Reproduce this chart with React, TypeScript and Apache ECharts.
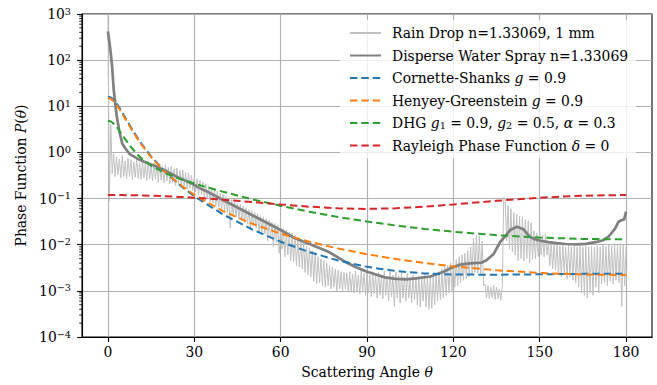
import React, { useEffect, useRef } from "react";
import * as echarts from "echarts";

const FONT = "DejaVu Serif";

// ---- axes ----
const X_MIN = -9;
const X_MAX = 189;
const xTickValues = [0, 30, 60, 90, 120, 150, 180];
const Y_MIN = 1e-4;
const Y_MAX = 1e3;
const yDecades = [-4, -3, -2, -1, 0, 1, 2];
const minorMultipliers = [2, 3, 4, 5, 6, 7, 8, 9];

// ---- model phase functions ----
const thetaModel = [0, 1, 2, 3, 4, 5, 6, 8, 10, 12, 15, 20, 25, 30, 40, 50, 60, 70, 80, 90, 100, 110, 120, 135, 150, 165, 180];
const cornetteShanks = [16.14, 15.51, 13.8, 11.58, 9.33, 7.352, 5.73, 3.504, 2.203, 1.4415, 0.819, 0.3723, 0.1946, 0.1122, 0.04525, 0.02162, 0.01162, 0.006907, 0.004538, 0.003314, 0.002689, 0.002386, 0.002261, 0.002236, 0.002284, 0.002334, 0.002353];
const henyeyGreenstein = [15.12, 14.53, 12.93, 10.86, 8.76, 6.913, 5.4, 3.314, 2.095, 1.38, 0.7937, 0.3704, 0.2002, 0.1201, 0.05342, 0.02866, 0.01742, 0.01158, 0.008252, 0.006209, 0.00489, 0.004002, 0.003389, 0.002793, 0.002445, 0.002262, 0.002204];
const doubleHG = [4.87, 4.693, 4.212, 3.59, 2.957, 2.401, 1.944, 1.31, 0.9344, 0.7087, 0.514, 0.3528, 0.2674, 0.2116, 0.1401, 0.0969, 0.06955, 0.05176, 0.0399, 0.03176, 0.02607, 0.022, 0.01907, 0.0161, 0.0143, 0.01334, 0.01304];
const rayleigh = [0.1194, 0.1194, 0.1193, 0.1192, 0.1191, 0.1189, 0.1187, 0.1182, 0.1176, 0.1168, 0.1154, 0.1124, 0.1087, 0.1045, 0.0947, 0.0843, 0.0746, 0.0667, 0.0615, 0.0597, 0.0615, 0.0667, 0.0746, 0.0895, 0.1045, 0.1154, 0.1194];

// ---- disperse water spray ----
const sprayTheta = [0, 0.5, 1, 1.5, 2, 3, 4, 5, 6, 7.6, 10, 12, 15, 17.5, 20, 24.4, 28.6, 31.4, 35, 40, 45, 50, 55, 60, 65, 70, 76.6, 82.4, 86, 90, 96.3, 100, 103.5, 107, 112, 116.6, 119, 122.4, 125.8, 129.9, 131.5, 133.9, 136.3, 137.5, 139.7, 142.1, 144.4, 146.5, 148.4, 150.2, 153, 156, 158.8, 162.9, 166, 169.8, 172, 173.9, 176.2, 177.4, 178.5, 179.3, 179.7, 180];
const sprayValues = [420, 250, 140, 69, 23.5, 6.5, 2.8, 1.55, 1.23, 0.92, 0.75, 0.65, 0.55, 0.475, 0.4, 0.288, 0.221, 0.175, 0.136, 0.093, 0.064, 0.044, 0.0303, 0.0208, 0.01375, 0.01035, 0.00705, 0.00428, 0.0033, 0.0026, 0.00196, 0.00182, 0.00178, 0.00187, 0.00205, 0.0026, 0.0031, 0.0037, 0.00395, 0.0041, 0.0046, 0.0062, 0.0116, 0.014, 0.0208, 0.0245, 0.0216, 0.0149, 0.0131, 0.0122, 0.0114, 0.0108, 0.01035, 0.0102, 0.0104, 0.0115, 0.0125, 0.0149, 0.0226, 0.0315, 0.0343, 0.035, 0.044, 0.052];

// ---- rain drop (noisy): upper envelope at whole degrees, lower envelope at half degrees ----
const rainUpper = [
  1000, 4.0, 0.95, 0.8, 0.72, 0.85, 0.65, 0.75, 0.7, 0.62,
  0.7, 0.6, 0.66, 0.58, 0.64, 0.55, 0.6, 0.52, 0.56, 0.5,
  0.54, 0.47, 0.5, 0.44, 0.46, 0.41, 0.42, 0.37, 0.36, 0.32,
  0.3, 0.27, 0.25, 0.23, 0.21, 0.19, 0.17, 0.16, 0.145, 0.13,
  0.125, 0.11, 0.1, 0.095, 0.085, 0.08, 0.075, 0.068, 0.063, 0.058,
  0.055, 0.05, 0.047, 0.043, 0.04, 0.037, 0.034, 0.031, 0.029, 0.027,
  0.025, 0.023, 0.021, 0.019, 0.018, 0.016, 0.014, 0.0125, 0.011, 0.0095,
  0.0085, 0.0075, 0.0065, 0.0055, 0.005, 0.0045, 0.004, 0.0035, 0.0033, 0.003,
  0.0028, 0.0026, 0.0025, 0.0024, 0.0026, 0.0023, 0.0027, 0.0022, 0.0028, 0.0024,
  0.0025, 0.0022, 0.0026, 0.0021, 0.0025, 0.0022, 0.0027, 0.0021, 0.0028, 0.0022,
  0.0026, 0.0021, 0.0025, 0.002, 0.0024, 0.002, 0.0022, 0.0019, 0.0021, 0.0018,
  0.0023, 0.0019, 0.0022, 0.002, 0.0024, 0.0026, 0.003, 0.0033, 0.0036, 0.004,
  0.0045, 0.0048, 0.0055, 0.006, 0.0065, 0.0075, 0.009, 0.014, 0.016, 0.0155,
  0.012, 0.0014, 0.0013, 0.0012, 0.0013, 0.0012, 0.0011, 0.0013, 0.09, 0.07,
  0.06, 0.05, 0.045, 0.042, 0.04, 0.035, 0.033, 0.03, 0.02, 0.018,
  0.019, 0.016, 0.017, 0.012, 0.011, 0.0105, 0.011, 0.0095, 0.0105, 0.009,
  0.01, 0.009, 0.0095, 0.009, 0.0092, 0.0088, 0.0095, 0.009, 0.0092, 0.0088,
  0.0095, 0.009, 0.0098, 0.0092, 0.01, 0.0095, 0.0105, 0.0098, 0.0107, 0.01,
  0.0095,
];
const rainLower = [
  0.09, 0.35, 0.3, 0.33, 0.28, 0.3, 0.27, 0.3, 0.26, 0.29,
  0.27, 0.26, 0.28, 0.25, 0.27, 0.24, 0.26, 0.23, 0.25, 0.22,
  0.24, 0.21, 0.22, 0.19, 0.21, 0.18, 0.19, 0.16, 0.17, 0.15,
  0.14, 0.12, 0.12, 0.1, 0.1, 0.085, 0.08, 0.07, 0.065, 0.06,
  0.055, 0.05, 0.023, 0.045, 0.04, 0.036, 0.033, 0.03, 0.028, 0.022,
  0.025, 0.023, 0.018, 0.019, 0.017, 0.012, 0.014, 0.009, 0.011, 0.0065,
  0.008, 0.0055, 0.006, 0.0045, 0.0042, 0.0035, 0.0033, 0.003, 0.0025, 0.0022,
  0.002, 0.0016, 0.0014, 0.0015, 0.0013, 0.0012, 0.0013, 0.0011, 0.0012, 0.001,
  0.0011, 0.001, 0.0011, 0.00095, 0.001, 0.0009, 0.001, 0.00085, 0.00095, 0.0008,
  0.0009, 0.00075, 0.00085, 0.0007, 0.0008, 0.00068, 0.0008, 0.0006, 0.00075, 0.00046,
  0.0007, 0.00055, 0.0007, 0.0006, 0.0007, 0.00055, 0.00065, 0.0005, 0.00045, 0.0006,
  0.00045, 0.0004, 0.00042, 0.0005, 0.0006, 0.00065, 0.0007, 0.0008, 0.0009, 0.001,
  0.0012, 0.0013, 0.0015, 0.0017, 0.0018, 0.002, 0.0022, 0.0025, 0.0024, 0.0023,
  0.0013, 0.0007, 0.00068, 0.0007, 0.00065, 0.00068, 0.00062, 0.106, 0.012, 0.008,
  0.007, 0.006, 0.0045, 0.005, 0.0045, 0.005, 0.004, 0.0048, 0.005, 0.0055,
  0.006, 0.0055, 0.006, 0.0035, 0.003, 0.0028, 0.0022, 0.002, 0.0025, 0.0018,
  0.002, 0.0017, 0.0015, 0.0012, 0.0009, 0.0008, 0.0007, 0.0009, 0.0008, 0.0012,
  0.0009, 0.0014, 0.0015, 0.0013, 0.0016, 0.0014, 0.0017, 0.0015, 0.00046, 0.0013,
];

const NAMES = {
  rain: "Rain Drop n=1.33069, 1 mm",
  spray: "Disperse Water Spray n=1.33069",
  cs: "Cornette-Shanks g=0.9",
  hg: "Henyey-Greenstein g=0.9",
  dhg: "DHG g1=0.9, g2=0.5, alpha=0.3",
  ray: "Rayleigh Phase Function delta=0",
};
const LEGEND_TEXT: Record<string, string> = {
  [NAMES.rain]: "Rain Drop n=1.33069, 1 mm",
  [NAMES.spray]: "Disperse Water Spray n=1.33069",
  [NAMES.cs]: "Cornette-Shanks {i|g} = 0.9",
  [NAMES.hg]: "Henyey-Greenstein {i|g} = 0.9",
  [NAMES.dhg]: "DHG {i|g}{sub|1} = 0.9, {i|g}{sub|2} = 0.5, {i|α} = 0.3",
  [NAMES.ray]: "Rayleigh Phase Function {i|δ} = 0",
};

const COLORS = {
  rain: "#c0c0c0",
  spray: "#808080",
  cs: "#1f77b4",
  hg: "#ff7f0e",
  dhg: "#2ca02c",
  ray: "#d62728",
};

const DASH = [7.4, 4];

function zip(xs: number[], ys: number[]) {
  return xs.map((x, i) => [x, ys[i]]);
}

function buildRain() {
  const out: number[][] = [];
  for (let i = 0; i < rainUpper.length; i++) {
    out.push([i, rainUpper[i]]);
    if (i < rainLower.length) out.push([i + 0.5, rainLower[i]]);
  }
  return out;
}

function fmtExp(v: number) {
  const e = Math.round(Math.log10(v));
  const s = e < 0 ? "\u2212" + String(-e) : String(e);
  return "{b|10}{s|" + s + "}";
}

export default function App() {
  const ref = useRef<HTMLDivElement>(null);
  useEffect(() => {
    const chart = echarts.init(ref.current!, null, { renderer: "svg" });
    const minorValues: number[][] = [];
    yDecades.forEach((d) =>
      minorMultipliers.forEach((m) => minorValues.push([X_MIN, m * Math.pow(10, d)]))
    );
    const dashed = (key: keyof typeof COLORS, ys: number[]) => ({
      name: NAMES[key],
      type: "line",
      data: zip(thetaModel, ys),
      symbol: "none",
      showSymbol: false,
      lineStyle: { color: COLORS[key], width: 2, type: DASH },
      itemStyle: { color: COLORS[key] },
      z: 3,
    });
    const option: any = {
      animation: false,
      grid: {
        left: 82,
        right: 5,
        top: 14,
        bottom: 48,
        show: true,
        borderColor: "#000",
        borderWidth: 1.1,
        containLabel: false,
        outerBoundsMode: "none",
      },
      legend: {
        orient: "vertical",
        left: 340,
        top: 20,
        itemWidth: 31,
        itemHeight: 14,
        itemGap: 8.5,
        padding: [6, 8, 6, 9],
        backgroundColor: "rgba(255,255,255,0.8)",
        borderWidth: 0,
        borderRadius: 3,
        itemStyle: { opacity: 0 },
        data: Object.values(NAMES),
        formatter: (n: string) => LEGEND_TEXT[n] || n,
        textStyle: {
          fontFamily: FONT,
          fontSize: 13.9,
          color: "#000",
          lineHeight: 14,
          padding: [0, 0, 0, 6],
          rich: {
            i: { fontFamily: FONT, fontStyle: "italic", fontSize: 13.9, color: "#000", lineHeight: 14 },
            sub: { fontFamily: FONT, fontSize: 9.7, color: "#000", lineHeight: 8, verticalAlign: "bottom" },
          },
        },
      },
      xAxis: {
        type: "value",
        min: X_MIN,
        max: X_MAX,
        axisLine: { onZero: false, lineStyle: { color: "#000", width: 1.1 } },
        axisTick: { show: true, length: 4.9, customValues: xTickValues, lineStyle: { color: "#000", width: 1.1 } },
        axisLabel: { customValues: xTickValues, fontFamily: FONT, fontSize: 13.9, color: "#000", margin: 8 },
        splitLine: { show: true, lineStyle: { color: "#b0b0b0", width: 1.1 } },
        name: "Scattering Angle {i|θ}",
        nameLocation: "middle",
        nameGap: 28,
        nameTextStyle: {
          fontFamily: FONT,
          fontSize: 13.9,
          color: "#000",
          rich: { i: { fontFamily: FONT, fontStyle: "italic", fontSize: 13.9, color: "#000" } },
        },
      },
      yAxis: {
        type: "log",
        logBase: 10,
        min: Y_MIN,
        max: Y_MAX,
        splitNumber: 7,
        axisLine: { onZero: false, lineStyle: { color: "#000", width: 1.1 } },
        axisTick: { show: true, length: 4.9, lineStyle: { color: "#000", width: 1.1 } },
        axisLabel: {
          formatter: fmtExp,
          margin: 11,
          color: "#000",
          rich: {
            b: { fontFamily: FONT, fontSize: 13.9, color: "#000", lineHeight: 16 },
            s: { fontFamily: FONT, fontSize: 9.7, color: "#000", lineHeight: 9, verticalAlign: "top" },
          },
        },
        splitLine: { show: true, lineStyle: { color: "#b0b0b0", width: 1.1 } },
        name: "Phase Function {i|P}({i|θ})",
        nameLocation: "middle",
        nameGap: 52,
        nameTextStyle: {
          fontFamily: FONT,
          fontSize: 13.9,
          color: "#000",
          rich: { i: { fontFamily: FONT, fontStyle: "italic", fontSize: 13.9, color: "#000" } },
        },
      },
      series: [
        {
          name: NAMES.rain,
          type: "line",
          data: buildRain(),
          symbol: "none",
          showSymbol: false,
          lineStyle: { color: COLORS.rain, width: 1 },
          itemStyle: { color: COLORS.rain },
          z: 2,
        },
        {
          name: NAMES.spray,
          type: "line",
          data: zip(sprayTheta, sprayValues),
          symbol: "none",
          showSymbol: false,
          lineStyle: { color: COLORS.spray, width: 2.7 },
          itemStyle: { color: COLORS.spray },
          z: 2,
        },
        dashed("cs", cornetteShanks),
        dashed("hg", henyeyGreenstein),
        dashed("dhg", doubleHG),
        dashed("ray", rayleigh),
        {
          name: "minor-ticks",
          type: "custom",
          data: minorValues,
          silent: true,
          clip: false,
          z: 5,
          renderItem: (_p: any, api: any) => {
            const pt = api.coord([api.value(0), api.value(1)]);
            return {
              type: "line",
              shape: { x1: pt[0] - 2.8, y1: pt[1], x2: pt[0], y2: pt[1] },
              style: { stroke: "#000", lineWidth: 0.85 },
            };
          },
        },
      ],
    };
    chart.setOption(option);
    return () => chart.dispose();
  }, []);
  return (
    <div
      ref={ref}
      style={{ position: "fixed", left: 0, top: 0, width: 657, height: 385, background: "#fff" }}
    />
  );
}
